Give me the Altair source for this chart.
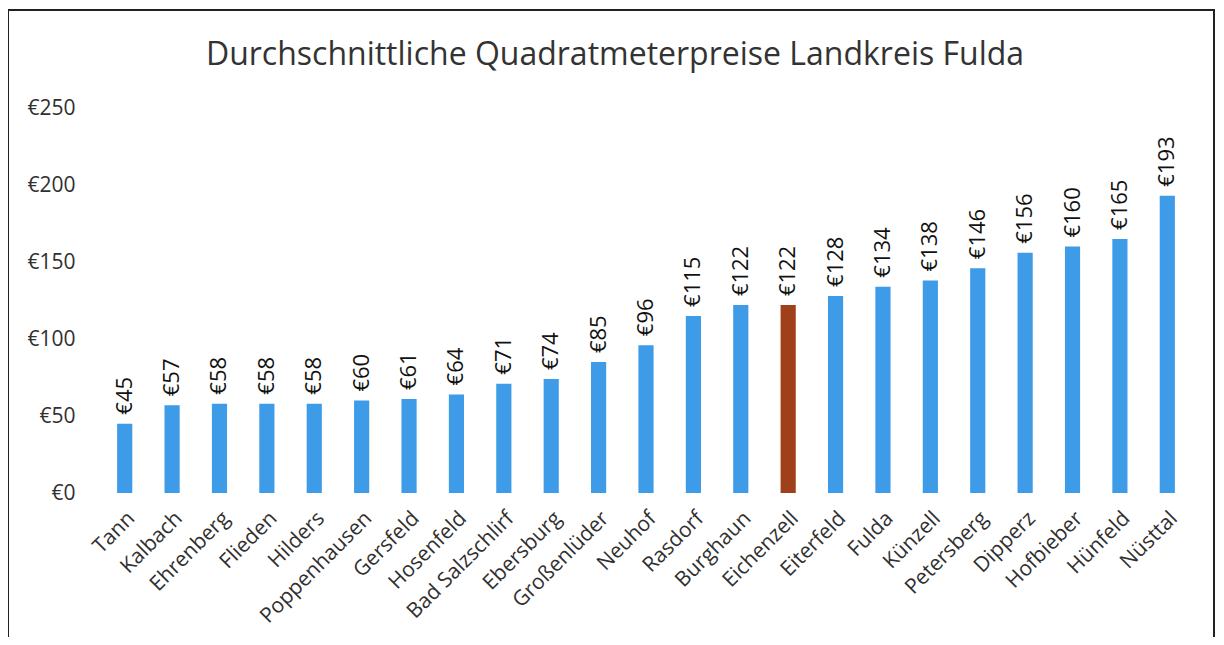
import altair as alt
import pandas as pd

orte = ["Tann", "Kalbach", "Ehrenberg", "Flieden", "Hilders", "Poppenhausen", "Gersfeld",
        "Hosenfeld", "Bad Salzschlirf", "Ebersburg", "Großenlüder", "Neuhof", "Rasdorf",
        "Burghaun", "Eichenzell", "Eiterfeld", "Fulda", "Künzell", "Petersberg", "Dipperz",
        "Hofbieber", "Hünfeld", "Nüsttal"]
preise = [45, 57, 58, 58, 58, 60, 61, 64, 71, 74, 85, 96, 115, 122, 122, 128, 134, 138,
          146, 156, 160, 165, 193]
hervorgehoben = "Eichenzell"
titel = "Durchschnittliche Quadratmeterpreise Landkreis Fulda"

df = pd.DataFrame({"Ort": orte, "Preis": preise})
df["Label"] = ["€" + str(v) for v in preise]
df["Gruppe"] = ["hl" if o == hervorgehoben else "normal" for o in orte]

FONT = "Open Sans"

x = alt.X("Ort:N", sort=orte, title=None,
          scale=alt.Scale(paddingInner=0.68, paddingOuter=0.34),
          axis=alt.Axis(labelAngle=-45, labelFontSize=21, labelColor="#303030",
                        labelFont=FONT, domain=False, ticks=False, labelPadding=22,
                        labelOffset=7, labelAlign="right", labelBaseline="middle"))
y = alt.Y("Preis:Q", title=None,
          scale=alt.Scale(domain=[0, 250], nice=False),
          axis=alt.Axis(values=[0, 50, 100, 150, 200, 250], labelExpr="'€' + datum.value",
                        labelFontSize=21, labelColor="#303030", labelFont=FONT,
                        domain=False, ticks=False, grid=False, labelPadding=26))

base = alt.Chart(df)

bars = base.mark_bar().encode(
    x=x, y=y,
    color=alt.Color("Gruppe:N", scale=alt.Scale(domain=["normal", "hl"],
                                                 range=["#3d9be8", "#a0401a"]), legend=None),
)

labels = base.mark_text(angle=270, align="left", baseline="middle", dx=9,
                        fontSize=22, font=FONT, color="#111111").encode(
    x=x, y=y, text="Label:N")

frame = base.mark_rect(fill=None, stroke="#222222", strokeWidth=1.5, clip=False).encode(
    x=alt.value(-93), x2=alt.value(1113), y=alt.value(-98), y2=alt.value(560))

title_mark = alt.Chart(pd.DataFrame({"t": [titel]})).mark_text(
    fontSize=32, font=FONT, color="#333333", align="center", baseline="alphabetic"
).encode(x=alt.value(514), y=alt.value(-43), text="t:N")

chart = alt.layer(frame, bars, labels, title_mark).properties(
    width=1090, height=385,
    autosize=alt.AutoSizeParams(type="none"),
    padding={"left": 93, "top": 100, "right": 25, "bottom": 144},
).configure_view(stroke=None)

chart.save("out.html", embed_options={"renderer": "svg", "actions": False})
